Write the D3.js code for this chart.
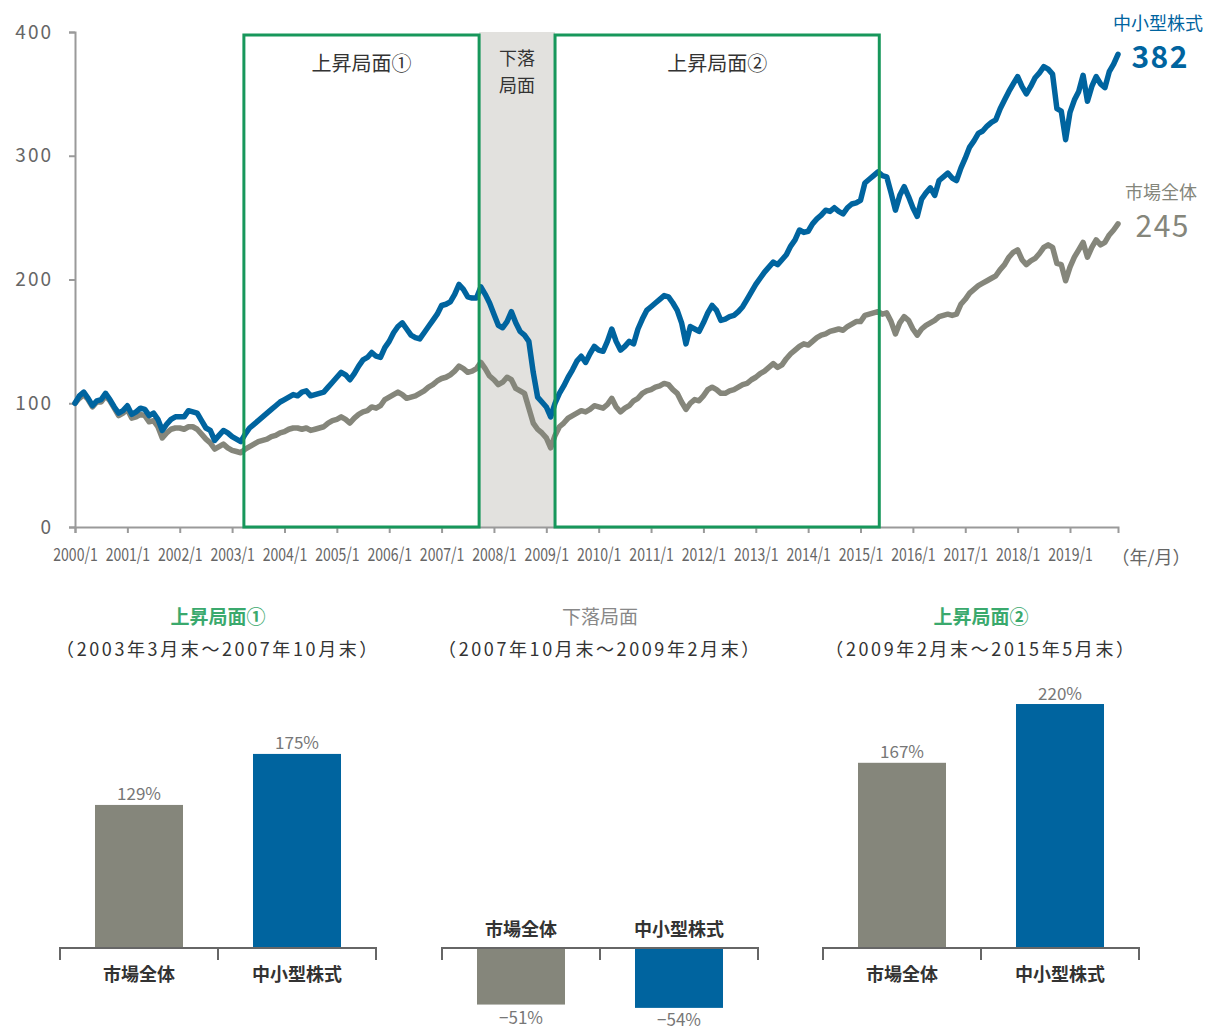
<!DOCTYPE html>
<html>
<head>
<meta charset="utf-8">
<script src="https://cdn.jsdelivr.net/npm/d3@7"></script>
<style>
    body { margin: 0; background: #fff; }
    text { font-family: "Noto Sans CJK JP", "Noto Sans", sans-serif; }
</style>
</head>
<body>
<svg id="chart" width="1206" height="1029"></svg>
<script>
// monthly index, 2000/1 = 100 (one row per year)
const startYear = 2000;
const smallMid = [
    100, 106, 109, 104, 98, 102, 103, 108, 103, 97, 92, 94, // 2000
    98, 91, 93, 96, 95, 90, 92, 87, 78, 83, 87, 89, // 2001
    89, 89, 94, 93, 92, 86, 80, 78, 70, 74, 78, 76, // 2002
    73, 71, 69, 75, 80, 83, 86, 89, 92, 95, 98, 101, // 2003
    103, 105, 107, 106, 109, 110, 106, 107, 108, 109, 113, 117, // 2004
    121, 125, 123, 119, 124, 130, 135, 137, 141, 138, 137, 145, // 2005
    150, 157, 162, 165, 160, 155, 153, 152, 157, 162, 167, 172, // 2006
    179, 180, 182, 188, 196, 192, 186, 185, 185, 194, 188, 181, // 2007
    172, 163, 161, 166, 174, 165, 158, 155, 150, 125, 105, 101, // 2008
    97, 89, 100, 108, 114, 121, 127, 134, 138, 133, 140, 146, // 2009
    143, 142, 150, 160, 150, 143, 146, 150, 148, 160, 168, 175, // 2010
    178, 181, 184, 187, 186, 181, 175, 165, 148, 162, 160, 158, // 2011
    165, 173, 179, 175, 167, 168, 170, 171, 174, 178, 184, 190, // 2012
    196, 201, 206, 210, 214, 212, 216, 220, 227, 232, 240, 238, // 2013
    239, 245, 249, 252, 256, 255, 258, 255, 253, 258, 261, 262, // 2014
    264, 278, 281, 284, 287, 284, 283, 270, 256, 268, 275, 267, // 2015
    258, 251, 265, 270, 274, 268, 280, 283, 286, 282, 280, 290, // 2016
    298, 307, 312, 318, 320, 324, 327, 329, 338, 345, 352, 358, // 2017
    364, 356, 350, 356, 363, 367, 372, 370, 366, 338, 336, 313, // 2018
    335, 345, 352, 365, 344, 356, 364, 358, 355, 368, 374, 382, // 2019
];
const market = [
    100, 104, 107, 103, 97, 101, 101, 106, 102, 96, 90, 92, // 2000
    95, 88, 89, 91, 90, 85, 86, 81, 72, 76, 79, 80, // 2001
    80, 79, 81, 81, 79, 75, 71, 68, 63, 65, 67, 64, // 2002
    62, 61, 60, 63, 65, 67, 69, 70, 71, 73, 74, 76, // 2003
    77, 79, 80, 80, 79, 80, 78, 79, 80, 81, 84, 86, // 2004
    87, 89, 87, 84, 88, 91, 93, 94, 97, 96, 98, 103, // 2005
    105, 107, 109, 107, 104, 105, 106, 108, 110, 113, 115, 118, // 2006
    120, 121, 123, 126, 130, 128, 125, 126, 128, 133, 128, 122, // 2007
    119, 115, 117, 121, 119, 112, 110, 108, 96, 84, 79, 76, // 2008
    72, 64, 74, 81, 84, 88, 90, 92, 94, 93, 95, 98, // 2009
    97, 96, 99, 104, 97, 93, 96, 98, 102, 104, 108, 110, // 2010
    111, 113, 114, 116, 115, 111, 108, 101, 95, 100, 103, 102, // 2011
    106, 111, 113, 111, 108, 108, 110, 111, 113, 115, 116, 119, // 2012
    121, 124, 126, 129, 132, 129, 131, 136, 140, 143, 146, 148, // 2013
    147, 150, 153, 155, 156, 158, 159, 160, 159, 162, 164, 166, // 2014
    166, 171, 172, 173, 174, 172, 173, 166, 156, 165, 170, 167, // 2015
    160, 155, 160, 163, 165, 167, 170, 171, 172, 171, 172, 180, // 2016
    184, 189, 192, 195, 197, 199, 201, 203, 208, 212, 218, 222, // 2017
    224, 216, 212, 215, 217, 221, 226, 228, 226, 213, 212, 199, // 2018
    210, 218, 224, 230, 218, 226, 232, 228, 230, 236, 240, 245, // 2019
];
const yTicks = [0, 100, 200, 300, 400];
const xTickYears = d3.range(2000, 2020);

// phases in months since 2000/1
const phaseNames = ['上昇局面①', '下落局面', '上昇局面②'];
const phaseStart = [38.7, 92.6, 110];
const phaseEnd = [92.6, 110, 184.3];

const barCategories = ['市場全体', '中小型株式'];
const panelPeriods = ['（2003年3月末～2007年10月末）', '（2007年10月末～2009年2月末）', '（2009年2月末～2015年5月末）'];
const panelMarket = [129, -51, 167];
const panelSmallMid = [175, -54, 220];

const BLUE = '#00649f';
const GREY = '#85867b';
const GREEN = '#17975b';
const BAND = '#e2e1de';

const svg = d3.select('#chart');

// ---- line chart ----
const x = d3.scaleLinear().domain([0, 239]).range([75, 1118]);
const y = d3.scaleLinear().domain([0, 400]).range([527, 32]);

// falling phase band (under the lines)
svg.append('rect')
    .attr('x', x(phaseStart[1]))
    .attr('y', y(400))
    .attr('width', x(phaseEnd[1]) - x(phaseStart[1]))
    .attr('height', y(0) - y(400))
    .attr('fill', BAND);

const yAxis = d3.axisLeft(y).tickValues(yTicks).tickSize(6).tickPadding(16);
const yG = svg.append('g').attr('transform', 'translate(75,0)').call(yAxis);
yG.select('.domain').attr('stroke', '#9a9a9a').attr('stroke-width', 2);
yG.selectAll('.tick line').attr('stroke', '#9a9a9a').attr('stroke-width', 2);
yG.selectAll('.tick text')
    .attr('fill', '#666')
    .style('font-size', '19px')
    .style('letter-spacing', '2px');

const xAxis = d3.axisBottom(x)
    .tickValues(xTickYears.map((yr) => (yr - startYear) * 12))
    .tickFormat((d) => `${startYear + d / 12}/1`)
    .tickSize(6)
    .tickPadding(15);
const xG = svg.append('g').attr('transform', 'translate(0,527)').call(xAxis);
xG.select('.domain').attr('stroke', '#9a9a9a').attr('stroke-width', 2);
xG.selectAll('.tick line').attr('stroke', '#9a9a9a').attr('stroke-width', 2);
xG.selectAll('.tick text')
    .attr('fill', '#666')
    .style('font-size', '18px')
    .attr('transform', 'scale(0.78,1)');

svg.append('text')
    .attr('x', 1151).attr('y', 556)
    .attr('text-anchor', 'middle').attr('dominant-baseline', 'central')
    .attr('fill', '#666').style('font-size', '18px')
    .text('（年/月）');

const line = d3.line().x((d, i) => x(i)).y((d) => y(d));

svg.append('path').datum(market)
    .attr('d', line).attr('fill', 'none')
    .attr('stroke', GREY).attr('stroke-width', 5.5)
    .attr('stroke-linejoin', 'round').attr('stroke-linecap', 'round');
svg.append('path').datum(smallMid)
    .attr('d', line).attr('fill', 'none')
    .attr('stroke', BLUE).attr('stroke-width', 5.5)
    .attr('stroke-linejoin', 'round').attr('stroke-linecap', 'round');

// rising phase boxes
[0, 2].forEach((p) => {
    svg.append('rect')
        .attr('x', x(phaseStart[p]))
        .attr('y', 35)
        .attr('width', x(phaseEnd[p]) - x(phaseStart[p]))
        .attr('height', y(0) - 35)
        .attr('fill', 'none')
        .attr('stroke', GREEN)
        .attr('stroke-width', 3);
    svg.append('text')
        .attr('x', (x(phaseStart[p]) + x(phaseEnd[p])) / 2)
        .attr('y', 62)
        .attr('text-anchor', 'middle').attr('dominant-baseline', 'central')
        .attr('fill', '#333').style('font-size', '20px')
        .text(phaseNames[p]);
});
const midX = (x(phaseStart[1]) + x(phaseEnd[1])) / 2;
['下落', '局面'].forEach((t, i) => {
    svg.append('text')
        .attr('x', midX).attr('y', 57 + i * 27)
        .attr('text-anchor', 'middle').attr('dominant-baseline', 'central')
        .attr('fill', '#333').style('font-size', '18px')
        .text(t);
});

// end labels
const lastI = smallMid.length - 1;
svg.append('text')
    .attr('x', 1203).attr('y', 22)
    .attr('text-anchor', 'end').attr('dominant-baseline', 'central')
    .attr('fill', BLUE).style('font-size', '18px')
    .text('中小型株式');
svg.append('text')
    .attr('x', 1189).attr('y', 55)
    .attr('text-anchor', 'end').attr('dominant-baseline', 'central')
    .attr('fill', BLUE).style('font-size', '30px').style('font-weight', 'bold')
    .style('letter-spacing', '1.5px')
    .text(smallMid[lastI]);
svg.append('text')
    .attr('x', 1197).attr('y', 191)
    .attr('text-anchor', 'end').attr('dominant-baseline', 'central')
    .attr('fill', GREY).style('font-size', '18px')
    .text('市場全体');
svg.append('text')
    .attr('x', 1190).attr('y', 224)
    .attr('text-anchor', 'end').attr('dominant-baseline', 'central')
    .attr('fill', GREY).style('font-size', '30px')
    .style('letter-spacing', '1.5px')
    .text(market[lastI]);

// ---- phase bar panels ----
const base = 948;
const yBar = d3.scaleLinear().domain([0, 100]).range([base, base - 110.9]);
const panelLeft = [60, 442, 823];
const panelWidth = 316;
const titleColor = ['#3aa96d', '#888', '#3aa96d'];

panelLeft.forEach((left, p) => {
    const g = svg.append('g');
    const cx = left + panelWidth / 2;
    const band = d3.scaleBand().domain(barCategories)
        .range([left, left + panelWidth])
        .paddingInner(0.443).paddingOuter(0.2215);
    const vals = [panelMarket[p], panelSmallMid[p]];
    const neg = vals[0] < 0;

    g.append('text')
        .attr('x', cx).attr('y', 615)
        .attr('text-anchor', 'middle').attr('dominant-baseline', 'central')
        .attr('fill', titleColor[p]).style('font-size', '19px')
        .style('font-weight', p === 1 ? 'normal' : 'bold')
        .text(phaseNames[p]);
    g.append('text')
        .attr('x', cx).attr('y', 648)
        .attr('text-anchor', 'middle').attr('dominant-baseline', 'central')
        .attr('fill', '#333').style('font-size', '18px').style('letter-spacing', '2.6px')
        .text(panelPeriods[p]);

    g.selectAll('rect.bar').data(vals).join('rect')
        .attr('class', 'bar')
        .attr('x', (d, i) => band(barCategories[i]))
        .attr('width', band.bandwidth())
        .attr('y', (d) => Math.min(yBar(d), base))
        .attr('height', (d) => Math.abs(yBar(d) - base))
        .attr('fill', (d, i) => (i === 0 ? GREY : BLUE));

    g.selectAll('text.val').data(vals).join('text')
        .attr('class', 'val')
        .attr('x', (d, i) => band(barCategories[i]) + band.bandwidth() / 2)
        .attr('y', (d) => (d < 0 ? 1016 + (d < -52 ? 2 : 0) : yBar(d) - 12))
        .attr('text-anchor', 'middle').attr('dominant-baseline', 'central')
        .attr('fill', '#777').style('font-size', '17px')
        .text((d) => `${d < 0 ? '−' : ''}${Math.abs(d)}%`);

    // baseline with ticks
    g.append('path')
        .attr('d', `M${left},${base + 12}V${base}H${left + panelWidth}V${base + 12}M${cx},${base}V${base + 12}`)
        .attr('fill', 'none').attr('stroke', '#666').attr('stroke-width', 2);

    g.selectAll('text.cat').data(barCategories).join('text')
        .attr('class', 'cat')
        .attr('x', (d) => band(d) + band.bandwidth() / 2)
        .attr('y', neg ? base - 20 : base + 25)
        .attr('text-anchor', 'middle').attr('dominant-baseline', 'central')
        .attr('fill', '#333').style('font-size', '18px').style('font-weight', 'bold')
        .text((d) => d);
});
</script>
</body>
</html>
